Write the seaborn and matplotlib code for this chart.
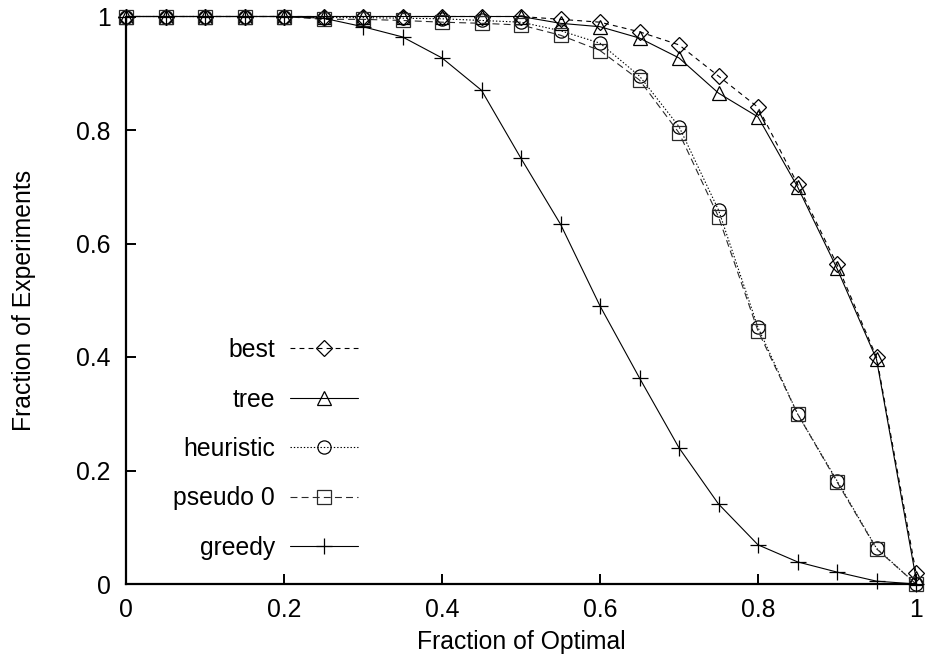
import matplotlib
matplotlib.use("Agg")
import matplotlib.pyplot as plt
import seaborn as sns
import numpy as np

# Fraction of optimal (x) and fraction of experiments reaching it (y)
frac_optimal = [0.00, 0.05, 0.10, 0.15, 0.20, 0.25, 0.30, 0.35, 0.40, 0.45, 0.50,
                0.55, 0.60, 0.65, 0.70, 0.75, 0.80, 0.85, 0.90, 0.95, 1.00]

best = [1.0, 1.0, 1.0, 1.0, 1.0, 1.0, 1.0, 1.0, 1.0, 1.0, 1.0,
        0.995, 0.99, 0.973, 0.95, 0.895, 0.84, 0.705, 0.563, 0.40, 0.02]
tree = [1.0, 1.0, 1.0, 1.0, 1.0, 1.0, 1.0, 1.0, 1.0, 1.0, 1.0,
        0.988, 0.982, 0.962, 0.927, 0.865, 0.823, 0.70, 0.556, 0.396, 0.01]
heuristic = [1.0, 1.0, 1.0, 1.0, 1.0, 0.998, 0.998, 0.997, 0.996, 0.993, 0.99,
             0.975, 0.953, 0.895, 0.806, 0.659, 0.452, 0.30, 0.182, 0.063, 0.0]
pseudo0 = [1.0, 1.0, 1.0, 1.0, 1.0, 0.995, 0.995, 0.993, 0.99, 0.988, 0.985,
           0.967, 0.94, 0.888, 0.795, 0.647, 0.446, 0.30, 0.18, 0.062, 0.0]
greedy = [1.0, 1.0, 1.0, 1.0, 1.0, 0.997, 0.982, 0.964, 0.927, 0.87, 0.75,
          0.634, 0.49, 0.363, 0.24, 0.141, 0.069, 0.039, 0.021, 0.005, 0.0]

series_labels = ["best", "tree", "heuristic", "pseudo 0", "greedy"]
x_ticks = [0, 0.2, 0.4, 0.6, 0.8, 1]
x_ticklabels = ["0", "0.2", "0.4", "0.6", "0.8", "1"]
y_ticks = [0, 0.2, 0.4, 0.6, 0.8, 1]
y_ticklabels = ["0", "0.2", "0.4", "0.6", "0.8", "1"]

sns.set_theme(style="white")
plt.rcParams["font.family"] = ["Liberation Sans", "DejaVu Sans"]
plt.rcParams["lines.scale_dashes"] = False

FS = 17.8

fig = plt.figure(figsize=(9.27, 6.65), dpi=100)
ax = fig.add_axes([126 / 927, 1 - 584 / 665, 790 / 927, 567.5 / 665])

styles = [
    (best, "D", (0, (3.5, 3.0)), "black", 8.0),
    (tree, "^", "-", "black", 9.5),
    (heuristic, "o", (0, (1.0, 1.4)), "black", 9.5),
    (pseudo0, "s", (0, (5.0, 3.0)), "#2a2a2a", 9.5),
    (greedy, "+", "-", "black", 11.0),
]

for (vals, mk, ls, col, ms), lab in zip(styles, series_labels):
    sns.lineplot(x=frac_optimal, y=vals, ax=ax, label=lab, color=col,
                 linestyle=ls, linewidth=0.8, marker=mk, markersize=ms,
                 markerfacecolor="none", markeredgecolor=col,
                 markeredgewidth=0.9, sort=False, estimator=None,
                 errorbar=None, clip_on=False)

ax.set_xlim(0, 1)
ax.set_ylim(0, 1)
ax.set_xticks(x_ticks)
ax.set_xticklabels(x_ticklabels)
ax.set_yticks(y_ticks)
ax.set_yticklabels(y_ticklabels)
ax.tick_params(axis="both", direction="in", length=7.5, width=1.4,
               labelsize=FS, color="black", labelcolor="black",
               bottom=True, left=True, top=False, right=False)
ax.tick_params(axis="x", pad=10)
ax.tick_params(axis="y", pad=11)

for side in ("top", "right"):
    ax.spines[side].set_visible(False)
for side in ("left", "bottom"):
    ax.spines[side].set_visible(True)
    ax.spines[side].set_color("black")
    ax.spines[side].set_linewidth(1.6)

ax.set_xlabel("Fraction of Optimal", fontsize=FS, color="black", labelpad=6)
ax.set_ylabel("Fraction of Experiments", fontsize=FS, color="black", labelpad=29)

leg = ax.legend(loc="center right", bbox_to_anchor=(232 / 790, (584 - 449) / 567.5),
                frameon=False, markerfirst=False, fontsize=FS, handlelength=2.75,
                handletextpad=0.6, labelspacing=1.03, borderpad=0,
                borderaxespad=0, numpoints=1)
for t in leg.get_texts():
    t.set_color("black")

fig.savefig("out.png", dpi=100, facecolor="white")
